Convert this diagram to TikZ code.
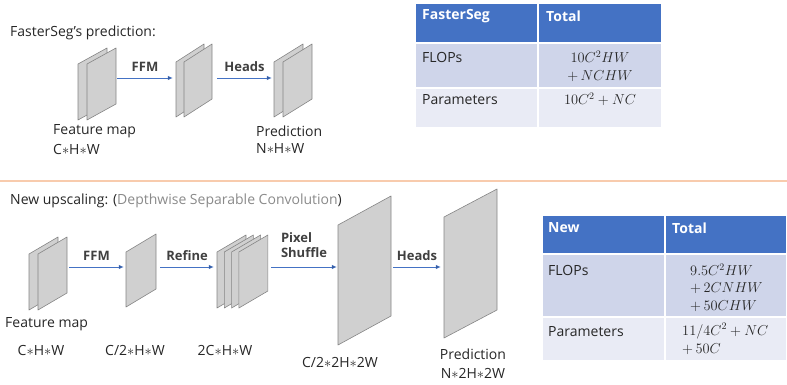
\documentclass[tikz,border=0pt]{standalone}
\usepackage{fontspec}
\setmainfont{Open Sans}
\usepackage{amsmath}
\usepackage{xcolor}
\usetikzlibrary{arrows.meta}

\definecolor{flowblue}{HTML}{4472C4}
\definecolor{headblue}{HTML}{4472C4}
\definecolor{rowa}{HTML}{CFD5EA}
\definecolor{rowb}{HTML}{E9EBF5}
\definecolor{sheetfill}{HTML}{D0D0D0}
\definecolor{sheetedge}{HTML}{858585}
\definecolor{sepline}{HTML}{F8CBAD}
\definecolor{softgray}{HTML}{8A8A8A}

% one feature map sheet: x, y (top left), width, height, skew
\newcommand{\fmap}[5]{%
  \draw[sheet] (#1,#2) -- ++(#3,-#5) -- ++(0,#4) -- ++(-#3,#5) -- cycle;}

\tikzset{
  sheet/.style={draw=sheetedge, fill=sheetfill, line width=0.6pt, line join=round},
  hub/.style={inner sep=0pt, minimum height=0.5pt},
  flow/.style={draw=flowblue, line width=0.8pt, -{Latex[length=5pt,width=4.5pt]}},
  lbl/.style={above=6pt, inner sep=0pt, text=black!75, font=\fontsize{13}{15}\selectfont\bfseries},
  txt/.style={inner sep=0pt, text=black!85, font=\fontsize{14}{17}\selectfont},
  cell/.style={draw=white, line width=1.5pt},
  headtxt/.style={txt, anchor=west, text=white, font=\fontsize{14}{17}\selectfont\bfseries},
}

\begin{document}
\begin{tikzpicture}[x=1pt, y=-1pt]
\useasboundingbox (0,0) rectangle (787,385);

%% FasterSeg
\node[txt, anchor=west] (toptitle) at (10,33) {FasterSeg’s prediction:};

\fmap{78}{64}{29}{56}{16}
\fmap{87}{64}{29}{56}{16}
\fmap{176}{62}{28}{55}{18}
\fmap{184}{62}{28}{55}{18}
\fmap{274}{62}{29}{55}{18}
\fmap{283}{62}{29}{55}{18}

\node[hub, minimum width=39pt] (feat)  at (97.5,78) {};
\node[hub, minimum width=44pt] (fused) at (195,78)  {};
\node[hub, minimum width=43pt] (pred)  at (293.5,78) {};

\path[flow]
  (feat)  edge node[lbl] {FFM}   (fused)
  (fused) edge node[lbl] {Heads} (pred);

\node[txt, anchor=west] (featname) at (53,131) {Feature map};
\node[txt, anchor=west] (featsize) at (53,149) {C$\ast$H$\ast$W};
\node[txt, anchor=west] (predname) at (256,131) {Prediction};
\node[txt, anchor=west] (predsize) at (256,149) {N$\ast$H$\ast$W};

% table
\filldraw[cell, fill=headblue] (415,3) rectangle (538,43);
\filldraw[cell, fill=headblue] (538,3) rectangle (662,43);
\filldraw[cell, fill=rowa] (415,43) rectangle (538,88);
\filldraw[cell, fill=rowa] (538,43) rectangle (662,88);
\filldraw[cell, fill=rowb] (415,88) rectangle (538,128);
\filldraw[cell, fill=rowb] (538,88) rectangle (662,128);
\node[headtxt] (oldhead) at (422,16) {FasterSeg};
\node[headtxt] (oldtotal) at (546,16) {Total};
\node[txt, anchor=west] (oldflops) at (422,57) {FLOPs};
\node[txt] (oldflopsa) at (600,57) {$10C^2HW$};
\node[txt] (oldflopsb) at (600,76) {$+\,NCHW$};
\node[txt, anchor=west] (oldparams) at (422,100) {Parameters};
\node[txt] (oldparamsa) at (600,99) {$10C^2+NC$};

\draw[sepline, line width=2pt] (0,181) -- (787,181);

%% New upscaling
\node[txt, anchor=west] (bottitle) at (10,201)
  {New upscaling: (\textcolor{softgray}{Depthwise Separable Convolution})};

\fmap{29}{254}{29}{56}{17}
\fmap{38}{254}{29}{56}{17}
\fmap{126}{252}{30}{55}{18}
\foreach \i in {0,...,3} {
  \fmap{217+7.3*\i}{252}{29}{56}{17}
}
\fmap{338}{225}{53}{120}{29}
\fmap{444}{217}{53}{121}{28}

\node[hub, minimum width=42pt] (featb)  at (48,267)  {};
\node[hub, minimum width=36pt] (half)   at (142,267) {};
\node[hub, minimum width=57pt] (refd)   at (242.5,267) {};
\node[hub, minimum width=56pt] (big)    at (365,267) {};
\node[hub, minimum width=56pt] (predb)  at (469,267) {};

\path[flow]
  (featb) edge node[lbl] {FFM}    (half)
  (half)  edge node[lbl] {Refine} (refd)
  (refd)  edge node[lbl, above=3pt, align=left] {Pixel\\Shuffle} (big)
  (big)   edge node[lbl] {Heads}  (predb);

\node[txt, anchor=west] (featbname) at (5,324) {Feature map};
\node[txt] (featbsize) at (41,350) {C$\ast$H$\ast$W};
\node[txt] (halfsize)  at (135,350) {C/2$\ast$H$\ast$W};
\node[txt] (refdsize)  at (225,350) {2C$\ast$H$\ast$W};
\node[txt] (bigsize)   at (340,362) {C/2$\ast$2H$\ast$2W};
\node[txt] (predbname) at (473,354) {Prediction};
\node[txt] (predbsize) at (473,373) {N$\ast$2H$\ast$2W};

% table
\filldraw[cell, fill=headblue] (542,215) rectangle (665,254);
\filldraw[cell, fill=headblue] (665,215) rectangle (787,254);
\filldraw[cell, fill=rowa] (542,254) rectangle (665,317);
\filldraw[cell, fill=rowa] (665,254) rectangle (787,317);
\filldraw[cell, fill=rowb] (542,317) rectangle (665,361);
\filldraw[cell, fill=rowb] (665,317) rectangle (787,361);
\node[headtxt] (newhead) at (548,228) {New};
\node[headtxt] (newtotal) at (672,228) {Total};
\node[txt, anchor=west] (newflops) at (548,270) {FLOPs};
\node[txt, anchor=west] (newflopsa) at (690,270) {$9.5C^2HW$};
\node[txt, anchor=west] (newflopsb) at (690,288) {$+\,2CNHW$};
\node[txt, anchor=west] (newflopsc) at (690,306) {$+\,50CHW$};
\node[txt, anchor=west] (newparams) at (548,332) {Parameters};
\node[txt, anchor=west] (newparamsa) at (682,331) {$11/4C^2+NC$};
\node[txt, anchor=west] (newparamsb) at (682,349) {$+\,50C$};
\end{tikzpicture}
\end{document}
